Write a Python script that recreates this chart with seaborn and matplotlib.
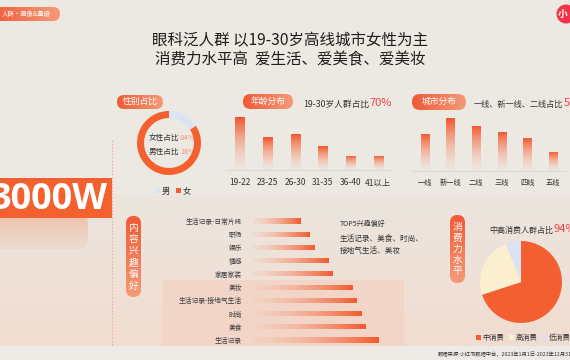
import numpy as np
import matplotlib
matplotlib.use("Agg")
import matplotlib.pyplot as plt
from matplotlib.colors import to_rgb
from matplotlib.patches import FancyBboxPatch, Rectangle, Circle
import seaborn as sns

# ----------------------------
# Data
# ----------------------------
AGE_GROUPS = ["19-22", "23-25", "26-30", "31-35", "36-40", "41以上"]
AGE_SHARE = [30.5, 19.0, 20.5, 13.8, 8.1, 8.1]

CITY_TIERS = ["一线", "新一线", "二线", "三线", "四线", "五线"]
CITY_SHARE = [16.4, 23.4, 19.9, 17.3, 14.6, 8.4]

GENDER = ["男", "女"]
GENDER_SHARE = [16, 84]

INTERESTS = ["生活记录-日常片段", "职场", "娱乐", "情感", "家居家装",
             "美妆", "生活记录-接地气生活", "时尚", "美食", "生活记录"]
INTEREST_SCORE = [38, 45, 49, 60, 63, 79, 82, 86, 89, 100]

SPEND_LEVELS = ["中消费", "高消费", "低消费"]
SPEND_SHARE = [70, 24, 6]

# ----------------------------
# Style
# ----------------------------
W, H = 570, 360
BG = "#ECE8E2"
ORANGE = "#F45A2C"
RED = "#F0404A"
PILL_L, PILL_R = "#F05A35", "#F59A7A"
SPEND_COLORS = ["#F45F31", "#FCEFCF", "#DCE2F1"]
GENDER_COLORS = ["#DCE3F2", "#F4602E"]

sns.set_theme(style="white")
plt.rcParams["font.family"] = ["Noto Sans CJK SC", "DejaVu Sans"]
plt.rcParams["axes.unicode_minus"] = False

fig = plt.figure(figsize=(W / 100, H / 100), dpi=100)
fig.patch.set_facecolor(BG)

bg = fig.add_axes([0, 0, 1, 1], zorder=0)
bg.set_xlim(0, W)
bg.set_ylim(H, 0)
bg.axis("off")


def px_axes(x0, y0, x1, y1):
    ax = fig.add_axes([x0 / W, 1 - y1 / H, (x1 - x0) / W, (y1 - y0) / H], zorder=2)
    ax.set_facecolor("none")
    return ax


def gradient(ax, extent, c0, c1, a0, a1, horizontal, clip=None, zorder=1):
    n = 128
    t = np.linspace(0, 1, n)
    c0 = np.array(to_rgb(c0))
    c1 = np.array(to_rgb(c1))
    rgb = c0[None, :] * (1 - t[:, None]) + c1[None, :] * t[:, None]
    a = a0 * (1 - t) + a1 * t
    arr = np.concatenate([rgb, a[:, None]], axis=1)
    arr = arr[None, :, :] if horizontal else arr[:, None, :]
    im = ax.imshow(arr, extent=extent, origin="lower", aspect="auto",
                   interpolation="bilinear", zorder=zorder)
    if clip is not None:
        im.set_clip_path(clip)
    return im


def pill(x0, y0, x1, y1, text, vertical=False, fs=6.3, ls=1.1):
    r = min(x1 - x0, y1 - y0) / 2
    box = FancyBboxPatch((x0, y0), x1 - x0, y1 - y0,
                         boxstyle=f"round,pad=0,rounding_size={r}",
                         fc="none", ec="none", zorder=3)
    bg.add_patch(box)
    if vertical:
        gradient(bg, [x0, x1, y1, y0], PILL_R, PILL_L, 1, 1, False, box, 3)
        bg.text((x0 + x1) / 2, (y0 + y1) / 2, "\n".join(text), color="white",
                fontsize=fs, ha="center", va="center", linespacing=ls, zorder=4)
    else:
        gradient(bg, [x0, x1, y1, y0], PILL_L, PILL_R, 1, 1, True, box, 3)
        bg.text((x0 + x1) / 2, (y0 + y1) / 2 - 0.5, text, color="white",
                fontsize=fs, ha="center", va="center", zorder=4)


def label_with_value(x, y, text, value, fs, vfs, vcolor):
    t = bg.text(x, y, text, fontsize=fs, color="#333333", va="center")
    bg.annotate(value, xy=(1, 0), xycoords=t, xytext=(0.3, 0), textcoords="offset points",
                fontsize=vfs, color=vcolor, va="bottom", ha="left")


# ----------------------------
# Background decoration
# ----------------------------
gradient(bg, [0, W, 346, 195], "#F1DCD0", "#ECE6DF", 1, 1, False, None, 0)
bg.add_patch(Rectangle((0, 346), W, 14, fc="#EEEBE6", ec="none", zorder=0.5))
bg.add_patch(Rectangle((162, 280), 242, 66, fc="#F3D3C4", ec="none", alpha=0.75, zorder=0.6))

# top-left tag and top-right logo
tag = FancyBboxPatch((-12, 7), 72, 14, boxstyle="round,pad=0,rounding_size=7",
                     fc="none", ec="none", zorder=3)
bg.add_patch(tag)
gradient(bg, [-12, 60, 21, 7], PILL_L, PILL_R, 1, 1, True, tag, 3)
bg.text(2, 14, "人群·画像&量级", color="white", fontsize=4.6, va="center", zorder=4)
bg.add_patch(Circle((566, 14), 9.5, fc="#EF3447", ec="none", zorder=3))
bg.text(563, 14, "小", color="white", fontsize=7, fontweight="bold",
        ha="center", va="center", zorder=4)

# title
bg.text(290, 41, "眼科泛人群 以19-30岁高线城市女性为主", fontsize=11.2,
        color="#1E1E1E", ha="center", va="center")
bg.text(290, 60, "消费力水平高  爱生活、爱美食、爱美妆", fontsize=11.2,
        color="#1E1E1E", ha="center", va="center")

# big number block
bg.add_patch(Rectangle((-5, 178), 117, 40, fc="#F4612F", ec="none", zorder=2))
blob = FancyBboxPatch((-12, 214), 100, 35, boxstyle="round,pad=0,rounding_size=9",
                      fc="none", ec="none", zorder=1)
bg.add_patch(blob)
gradient(bg, [-12, 88, 249, 214], "#EED9CE", "#F0BFA8", 0.8, 0.9, False, blob, 1)
bg.text(108, 200, "3000W", color="white", fontsize=26, fontweight="bold",
        ha="right", va="center", zorder=3, family=["Open Sans", "DejaVu Sans"])
bg.plot([112, 112], [140, 345], color="#F0A68C", lw=0.6, ls=(0, (2, 2)), zorder=1)

# pills
pill(117, 95, 163, 109, "性别占比")
pill(243, 94, 293, 109, "年龄分布")
pill(412, 94, 466, 110, "城市分布")
pill(126, 216, 141, 297, "内容兴趣偏好", vertical=True, fs=7, ls=1.2)
pill(450, 215, 465, 283, "消费力水平", vertical=True, fs=7, ls=1.1)

# ----------------------------
# Gender donut
# ----------------------------
ax_g = px_axes(137, 111, 201, 175)
ax_g.pie(GENDER_SHARE, colors=GENDER_COLORS, startangle=90, counterclock=False,
         radius=1, wedgeprops=dict(width=0.22, linewidth=0))
ax_g.set_xlim(-1, 1)
ax_g.set_ylim(-1, 1)
label_with_value(149, 138, "女性占比", f"{GENDER_SHARE[1]}%", 5.5, 5.5, "#F3977A")
label_with_value(149, 152, "男性占比", f"{GENDER_SHARE[0]}%", 5.5, 5.5, "#F3977A")
for x, c, lab in [(157, GENDER_COLORS[0], GENDER[0]), (178, GENDER_COLORS[1], GENDER[1])]:
    bg.add_patch(Rectangle((x - 2.5, 188), 5, 5, fc=c, ec="none"))
    bg.text(x + 5, 191, lab, fontsize=6, color="#333333", va="center")


# ----------------------------
# Bar charts
# ----------------------------
def vertical_bars(rect, cats, vals, ymax):
    ax = px_axes(*rect)
    sns.barplot(x=cats, y=vals, color=ORANGE, width=0.33, linewidth=0, ax=ax)
    xl = ax.get_xlim()
    for p in ax.patches:
        gradient(ax, [p.get_x(), p.get_x() + p.get_width(), 0, p.get_height()],
                 "#F9C2AC", "#F4542A", 0.05, 1, False, p, 2)
        p.set_facecolor("none")
    ax.set_xlim(xl)
    ax.set_ylim(0, ymax)
    sns.despine(ax=ax, left=True)
    ax.spines["bottom"].set_color("#DAD4CD")
    ax.spines["bottom"].set_linewidth(0.6)
    ax.set_yticks([])
    ax.set_ylabel("")
    ax.tick_params(axis="x", length=0, pad=6, labelsize=6, labelcolor="#333333")
    return ax


ax_age = vertical_bars((226, 112, 392, 170), AGE_GROUPS, AGE_SHARE, 33.4)
label_with_value(303, 104, "19-30岁人群占比", "70%", 6.3, 8, RED)

ax_city = vertical_bars((412, 112, 566, 171), CITY_TIERS, CITY_SHARE, 26.05)
ax_city.tick_params(axis="x", labelsize=5.2)
label_with_value(474, 104, "一线、新一线、二线占比", "57%", 5.9, 8, RED)

# interest bars
ax_i = px_axes(253, 214.4, 379, 346.6)
sns.barplot(x=INTEREST_SCORE, y=INTERESTS, orient="h", color=ORANGE,
            width=0.38, linewidth=0, ax=ax_i)
yl = ax_i.get_ylim()
for p in ax_i.patches:
    gradient(ax_i, [p.get_x(), p.get_x() + p.get_width(), p.get_y() + p.get_height(), p.get_y()],
             "#F6C9B6", "#F45A2C", 0.25, 1, True, p, 2)
    p.set_facecolor("none")
ax_i.set_xlim(0, 100)
ax_i.set_ylim(yl)
sns.despine(ax=ax_i, left=True, bottom=True)
ax_i.set_xticks([])
ax_i.set_xlabel("")
ax_i.tick_params(axis="y", length=0, pad=8, labelsize=4.9, labelcolor="#3A3A3A")

bg.text(340, 224, "TOP5兴趣偏好", fontsize=5, color="#333333", va="center")
bg.text(340, 239, "生活记录、美食、时尚、", fontsize=5.5, color="#333333", va="center")
bg.text(340, 251, "接地气生活、美妆", fontsize=5.5, color="#333333", va="center")

# ----------------------------
# Consumption pie
# ----------------------------
ax_p = px_axes(480, 241, 562, 323)
ax_p.pie(SPEND_SHARE, colors=SPEND_COLORS, startangle=90, counterclock=False,
         radius=1, wedgeprops=dict(linewidth=0))
ax_p.set_xlim(-1, 1)
ax_p.set_ylim(-1, 1)
label_with_value(489, 230, "中高消费人群占比", f"{SPEND_SHARE[0] + SPEND_SHARE[1]}%", 5.8, 8, RED)
for x, c, lab in zip([478, 511, 544], SPEND_COLORS, SPEND_LEVELS):
    bg.add_patch(Rectangle((x - 2.5, 335), 5, 5, fc=c, ec="none"))
    bg.text(x + 4.5, 338, lab, fontsize=5.2, color="#333333", va="center")

bg.text(438, 354, "数据来源:小红书数据中台，2023年1月1日-2023年12月31日", fontsize=3.8,
        color="#333333", va="center")

fig.savefig("out.png", dpi=100, facecolor=BG)
